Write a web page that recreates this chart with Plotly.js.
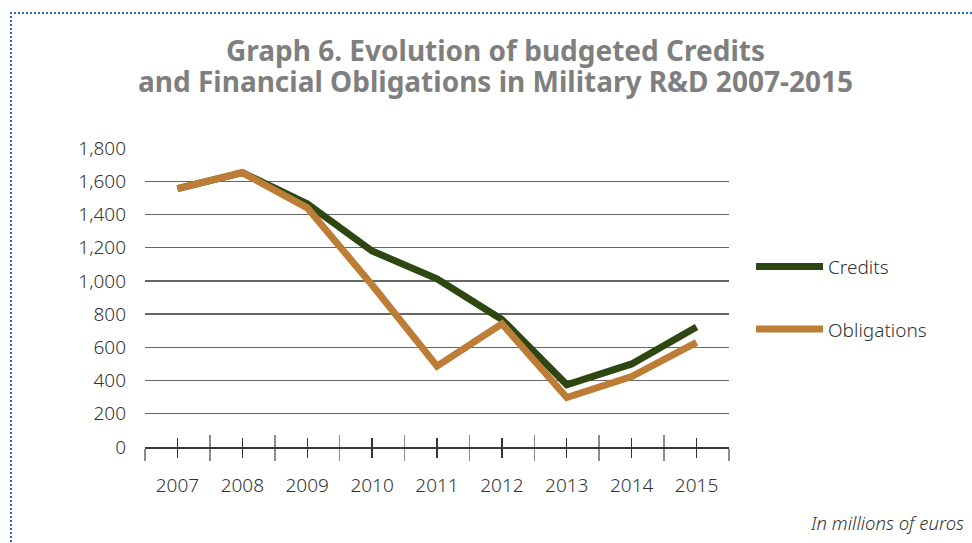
<!DOCTYPE html>
<html>
<head>
<meta charset="utf-8">
<script src="https://cdn.plot.ly/plotly-3.0.1.min.js"></script>
<style>
  html, body { margin: 0; padding: 0; background: #fff; }
  #wrap { position: relative; width: 972px; height: 543px; overflow: hidden; }
  #chart { width: 972px; height: 543px; }
  #frame { position: absolute; left: 10px; top: 12px; width: 980px; height: 560px;
           border-top: 2px dotted #2f6db5; border-left: 2px dotted #2f6db5; pointer-events: none; }
</style>
</head>
<body>
<div id="wrap">
  <div id="chart"></div>
  <div id="frame"></div>
</div>
<script>
const years = ['2007','2008','2009','2010','2011','2012','2013','2014','2015'];
const credits = [1555, 1652, 1465, 1180, 1012, 768, 375, 500, 722];
const obligations = [1555, 1652, 1440, 975, 487, 742, 298, 424, 630];
const yTicks = [0, 200, 400, 600, 800, 1000, 1200, 1400, 1600, 1800];
const yTickText = ['0', '200', '400', '600', '800', '1,000', '1,200', '1,400', '1,600', '1,800'];
const titleLine1 = 'Graph 6. Evolution of budgeted Credits';
const titleLine2 = 'and Financial Obligations in Military R&D 2007-2015';

const GREEN = '#2e4612';
const ORANGE = '#bd7d36';
const FONT = '"Noto Sans", "Open Sans", sans-serif';
const TFONT = { family: '"Noto Sans", "Open Sans", sans-serif', size: 28, color: '#7f7f7f', weight: 700 };

const traces = [
  { x: years, y: credits, name: 'Credits', type: 'scatter', mode: 'lines',
    line: { color: GREEN, width: 7 }, legendgroup: 'a', hoverinfo: 'x+y' },
  { x: years, y: obligations, name: 'Obligations', type: 'scatter', mode: 'lines',
    line: { color: ORANGE, width: 7 }, legendgroup: 'b', hoverinfo: 'x+y' },
  // carriers for the extra tick axes (no visible marks)
  { x: years, y: years.map(() => null), xaxis: 'x2', yaxis: 'y', showlegend: false, hoverinfo: 'skip', mode: 'lines' },
  { x: years, y: years.map(() => null), xaxis: 'x3', yaxis: 'y', showlegend: false, hoverinfo: 'skip', mode: 'lines' },
  { x: years, y: years.map(() => null), xaxis: 'x4', yaxis: 'y', showlegend: false, hoverinfo: 'skip', mode: 'lines' }
];

const baseX = {
  type: 'category', categoryorder: 'array', categoryarray: years,
  range: [-0.5, years.length - 0.5], fixedrange: true, showgrid: false, zeroline: false
};

const layout = {
  width: 972, height: 543,
  margin: { l: 145, r: 243, t: 148, b: 96 },
  paper_bgcolor: '#ffffff', plot_bgcolor: '#ffffff',
  font: { family: FONT, color: '#333333', size: 19 },
  title: {
    text: titleLine1,
    font: TFONT,
    x: 0.6002, xanchor: 'center', xref: 'paper', y: 0.906, yanchor: 'middle', yref: 'container'
  },
  xaxis: Object.assign({}, baseX, {
    tickson: 'boundaries', ticks: 'outside', ticklen: 12, tickwidth: 1.5, tickcolor: '#8a8a8a',
    showline: true, linecolor: '#3a3a3a', linewidth: 1.5,
    tickfont: { family: FONT, size: 19, color: '#333333', weight: 300 },
    ticklabelstandoff: 21
  }),
  xaxis2: Object.assign({}, baseX, {
    overlaying: 'x', anchor: 'y', side: 'bottom',
    tickson: 'boundaries', ticks: 'inside', ticklen: 12, tickwidth: 1.5, tickcolor: '#8a8a8a',
    showticklabels: false, showline: false
  }),
  xaxis3: Object.assign({}, baseX, {
    overlaying: 'x', anchor: 'y', side: 'bottom',
    tickson: 'labels', ticks: 'outside', ticklen: 10, tickwidth: 1.3, tickcolor: '#333333',
    showticklabels: false, showline: false
  }),
  xaxis4: Object.assign({}, baseX, {
    overlaying: 'x', anchor: 'y', side: 'bottom',
    tickson: 'labels', ticks: 'inside', ticklen: 9, tickwidth: 1.3, tickcolor: '#333333',
    showticklabels: false, showline: false
  }),
  yaxis: {
    range: [0, 1800], fixedrange: true,
    tickmode: 'array', tickvals: yTicks, ticktext: yTickText,
    showgrid: true, gridcolor: '#666666', gridwidth: 1.3,
    zeroline: false, showline: false, ticks: '',
    tickfont: { family: FONT, size: 19, color: '#333333', weight: 300 },
    ticklabelstandoff: 18
  },
  showlegend: true,
  legend: {
    x: 1.0377, xanchor: 'left', y: 0.667, yanchor: 'top',
    font: { family: FONT, size: 19, color: '#333333', weight: 300 },
    bgcolor: 'rgba(0,0,0,0)', itemwidth: 67, tracegroupgap: 35,
    traceorder: 'grouped'
  },
  annotations: [
    { text: titleLine2, xref: 'paper', yref: 'paper', x: 0.6002, y: 1.224,
      xanchor: 'center', yanchor: 'middle', showarrow: false, font: TFONT },
    { text: '<i>In millions of euros</i>', xref: 'paper', yref: 'paper',
      x: 1.4058, y: -0.254, xanchor: 'right', yanchor: 'middle', showarrow: false,
      font: { family: FONT, size: 18.5, color: '#333333', weight: 300 } }
  ]
};

Plotly.newPlot('chart', traces, layout, { displayModeBar: false, staticPlot: true });
</script>
</body>
</html>
